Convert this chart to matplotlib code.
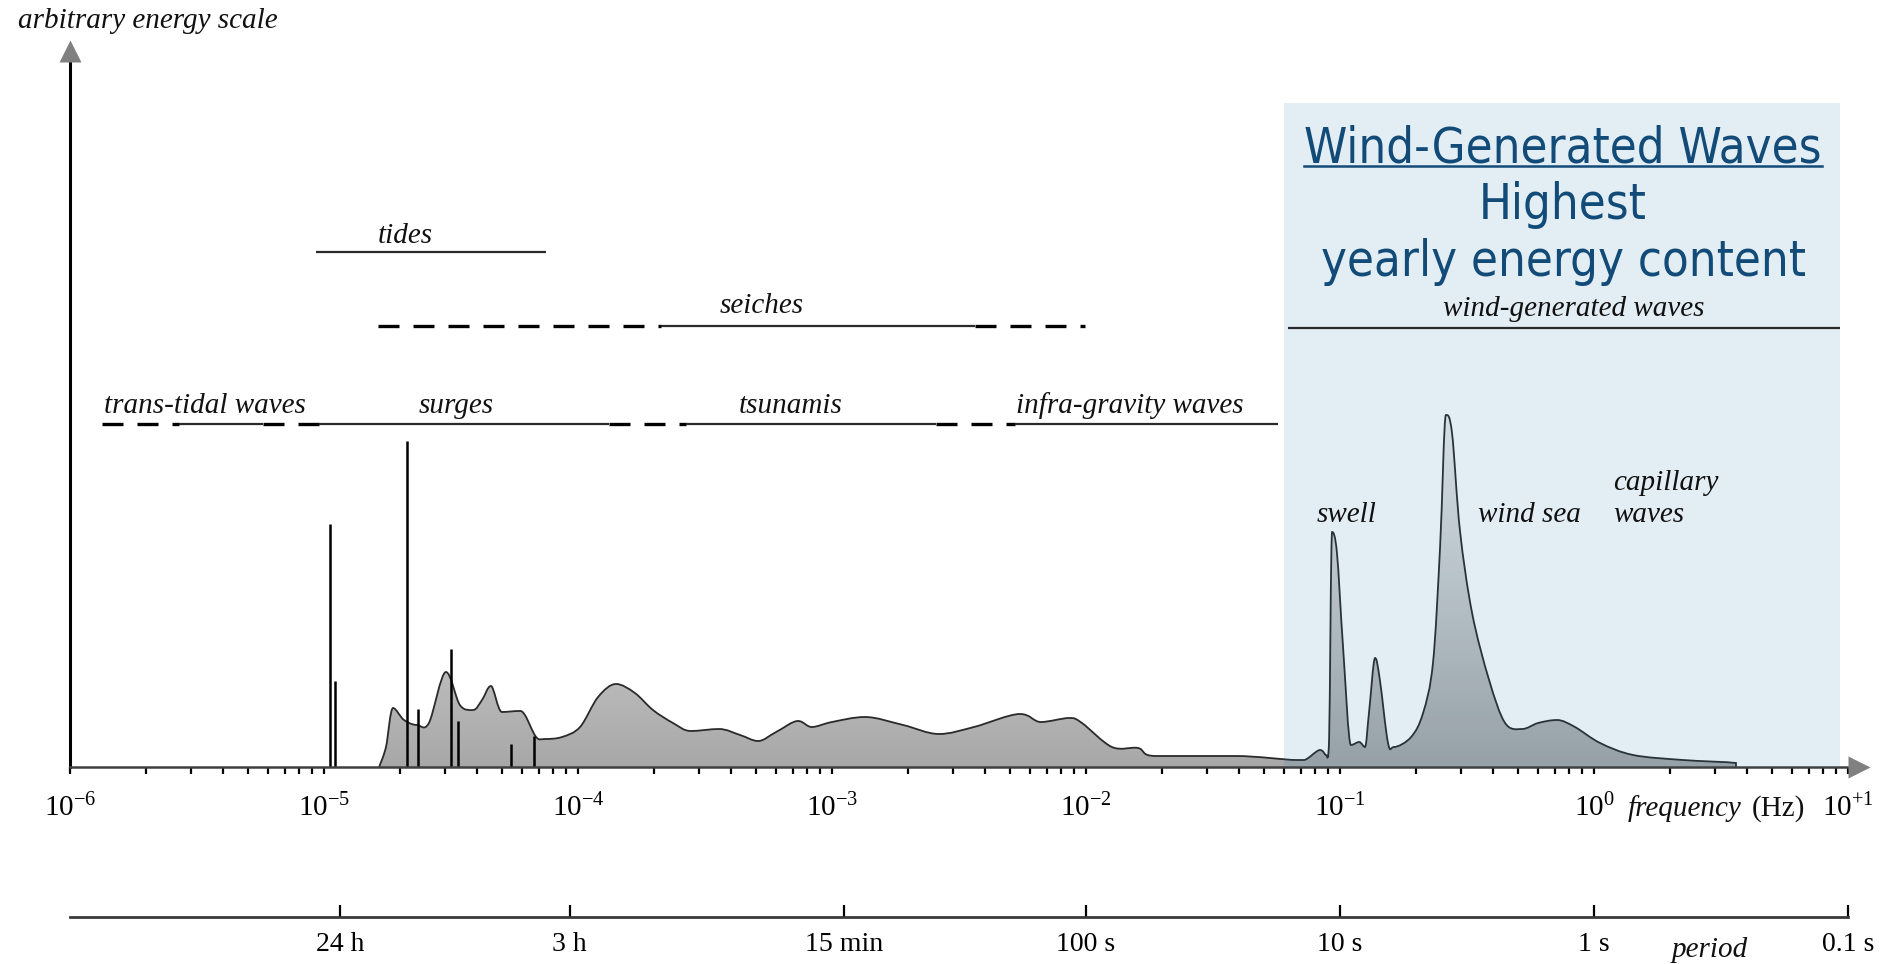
import numpy as np
import matplotlib
matplotlib.use('Agg')
import matplotlib.pyplot as plt
from matplotlib.colors import LinearSegmentedColormap
from matplotlib.patches import PathPatch
from matplotlib.path import Path
from matplotlib.ticker import NullLocator, FixedLocator, LogLocator
from matplotlib.lines import Line2D

plt.rcParams['font.family'] = ['Liberation Serif', 'DejaVu Serif']
plt.rcParams['mathtext.fontset'] = 'custom'
plt.rcParams['mathtext.rm'] = 'Liberation Serif'
plt.rcParams['mathtext.it'] = 'Liberation Serif:italic'

# ---------------- data ----------------
spec_log_f = [-4.783, -4.756, -4.728, -4.685, -4.634, -4.587, -4.520, -4.465, -4.413, -4.378,
              -4.343, -4.299, -4.236, -4.209, -4.165, -4.130, -4.063, -3.992, -3.921, -3.850,
              -3.776, -3.705, -3.626, -3.555, -3.445, -3.362, -3.291, -3.220, -3.134, -3.079,
              -3.000, -2.870, -2.720, -2.579, -2.441, -2.260, -2.177, -2.067, -2.016, -1.898,
              -1.795, -1.724, -1.413, -1.173, -1.142, -1.079, -1.055, -1.043, -1.031, -1.012,
              -0.988, -0.957, -0.925, -0.902, -0.886, -0.862, -0.843, -0.811, -0.787, -0.720,
              -0.673, -0.634, -0.606, -0.583, -0.559, -0.528, -0.480, -0.413, -0.350, -0.283,
              -0.220, -0.146, -0.075, 0.024, 0.154, 0.350, 0.559, 0.559]
spec_energy = [0, 20, 59, 47, 42, 44, 95, 62, 57, 67,
               81, 55, 56, 52, 30, 28, 30, 40, 70, 83,
               74, 57, 44, 36, 38, 32, 26, 35, 46, 40,
               45, 50, 42, 33, 40, 53, 45, 49, 44, 20,
               19, 11, 11, 7, 7, 17, 12, 27, 235, 214,
               120, 22, 25, 20, 54, 109, 87, 24, 20, 30,
               54, 104, 220, 352, 334, 237, 154, 87, 44, 38,
               44, 47, 40, 24, 12, 7, 4, 0]

tide_log_f = [-4.976, -4.957, -4.673, -4.630, -4.500, -4.472, -4.264, -4.173]
tide_energy = [243, 86, 326, 58, 118, 46, 23, 31]

# range bars: breakpoints (log10 Hz) and style of each piece
lower_row_log_f = [-5.874, -5.571, -5.240, -5.020, -3.878, -3.575, -2.591, -2.280, -1.244]
lower_row_styles = ['dash', 'solid', 'dash', 'solid', 'dash', 'solid', 'dash', 'solid']
lower_row_level = 343
seiche_log_f = [-4.787, -3.673, -2.437, -2.004]
seiche_styles = ['dash', 'solid', 'dash']
seiche_level = 441
tide_range_log_f = [-5.031, -4.126]
tide_range_level = 515
wind_range_log_f = [-1.205, 0.969]
wind_range_level = 439

phenomena_labels = ['trans-tidal waves', 'surges', 'tsunamis', 'infra-gravity waves',
                    'tides', 'seiches', 'wind-generated waves', 'swell', 'wind sea']
phenomena_log_f = [-5.469, -4.480, -3.161, -1.827, -4.681, -3.276, -0.079, -0.976, -0.256]
phenomena_energy = [354, 354, 354, 354, 524, 454, 451, 245, 245]

freq_exponents = [-6, -5, -4, -3, -2, -1, 0, 1]
freq_tick_labels = [r'$10^{-6}$', r'$10^{-5}$', r'$10^{-4}$', r'$10^{-3}$', r'$10^{-2}$',
                    r'$10^{-1}$', r'$10^{0}$', r'$10^{+1}$']

period_seconds = [86400, 10800, 900, 100, 10, 1, 0.1]
period_labels = ['24 h', '3 h', '15 min', '100 s', '10 s', '1 s', '0.1 s']

box_log_f = [-1.220, 0.969]
box_top = 664
box_title = ['Wind-Generated Waves', 'Highest', 'yearly energy content']
box_title_energy = [605, 548, 491]

# ---------------- figure ----------------
W, H = 1896, 964
fig = plt.figure(figsize=(W / 100, H / 100), dpi=100)
ax = fig.add_axes([70 / W, (H - 767) / H, 1798 / W, 725 / H])
ax.set_xscale('log')
xmax = 10 ** 1.0787


def smooth_path(lx, ly, close=False):
    """Bezier path through the read points (in log-f space), drawn via transData."""
    P = np.column_stack([lx, ly]).astype(float)
    n = len(P)
    M = np.zeros_like(P)
    for i in range(n):
        a = P[i - 1] if i > 0 else P[i]
        b = P[i + 1] if i < n - 1 else P[i]
        M[i] = (b - a) / 2.0
        if 0 < i < n - 1:
            if (P[i, 1] >= P[i - 1, 1] and P[i, 1] >= P[i + 1, 1]) or \
               (P[i, 1] <= P[i - 1, 1] and P[i, 1] <= P[i + 1, 1]):
                M[i, 1] = 0.0
    verts = [P[0]]
    codes = [Path.MOVETO]
    for i in range(n - 1):
        p1, p2 = P[i], P[i + 1]
        if p2[0] - p1[0] < 1e-9:
            verts.append(p2)
            codes.append(Path.LINETO)
            continue
        c1 = p1 + M[i] / 3.0
        c2 = p2 - M[i + 1] / 3.0
        c1[0] = np.clip(c1[0], p1[0], p2[0])
        c2[0] = np.clip(c2[0], p1[0], p2[0])
        c1[1] = max(c1[1], 0.0)
        c2[1] = max(c2[1], 0.0)
        verts += [c1, c2, p2.copy()]
        codes += [Path.CURVE4] * 3
    if close:
        verts += [P[0], P[0]]
        codes += [Path.LINETO, Path.CLOSEPOLY]
    V = np.array(verts)
    V[:, 0] = 10 ** V[:, 0]
    return Path(V, codes)


# gradient fill of the spectrum
cmap = LinearSegmentedColormap.from_list('g', ['#a8a8a8', '#f0f0f0'])
grad = np.linspace(0, 1, 256).reshape(-1, 1)
im = ax.imshow(grad, extent=(1e-6, 10, 0, 352), origin='lower', aspect='auto',
               cmap=cmap, zorder=1, interpolation='bilinear')
fill_patch = PathPatch(smooth_path(spec_log_f, spec_energy, close=True),
                       transform=ax.transData, facecolor='none', edgecolor='none')
ax.add_patch(fill_patch)
im.set_clip_path(fill_patch)
ax.add_patch(PathPatch(smooth_path(spec_log_f, spec_energy), transform=ax.transData,
                       facecolor='none', edgecolor='#2a2a2a', lw=1.3, zorder=2))
ax.set_xlim(1e-6, xmax)
ax.set_ylim(0, 725)

# tidal lines
ax.vlines(10 ** np.array(tide_log_f), 0, tide_energy, color='black', lw=1.8, zorder=2)

# wind-generated box (translucent blue)
ax.axvspan(10 ** box_log_f[0], 10 ** box_log_f[1], ymin=0, ymax=box_top / 725,
           color='#2271a8', alpha=0.125, lw=0, zorder=3)


def draw_row(breaks, styles, level):
    for i, st in enumerate(styles):
        xs = [10 ** breaks[i], 10 ** breaks[i + 1]]
        if st == 'solid':
            ax.plot(xs, [level, level], color='#2a2a2a', lw=1.6, zorder=4,
                    solid_capstyle='butt')
        else:
            ax.plot(xs, [level, level], color='black', lw=2.4, zorder=4,
                    linestyle=(0, (6.3, 4.2)), dash_capstyle='butt')


draw_row(lower_row_log_f, lower_row_styles, lower_row_level)
draw_row(seiche_log_f, seiche_styles, seiche_level)
draw_row(tide_range_log_f, ['solid'], tide_range_level)
draw_row(wind_range_log_f, ['solid'], wind_range_level)

for lab, lf, en in zip(phenomena_labels, phenomena_log_f, phenomena_energy):
    ax.text(10 ** lf, en, lab, ha='center', va='baseline', style='italic',
            fontsize=21, color='#111111', zorder=5)
ax.text(10 ** 0.075, 277, 'capillary', ha='left', va='baseline', style='italic',
        fontsize=21, color='#111111', zorder=5)
ax.text(10 ** 0.075, 245, 'waves', ha='left', va='baseline', style='italic',
        fontsize=21, color='#111111', zorder=5)

# box title
title_texts = []
for s, en in zip(box_title, box_title_energy):
    t = ax.text(10 ** -0.122, en, s, ha='center', va='baseline', fontsize=34,
                family='DejaVu Sans', fontstretch='condensed', color='#124b78', zorder=5)
    title_texts.append(t)

# axes styling
for sp in ['top', 'right']:
    ax.spines[sp].set_visible(False)
ax.spines['left'].set_bounds(0, 706)
ax.spines['left'].set_linewidth(2.2)
ax.spines['left'].set_color('black')
ax.spines['bottom'].set_bounds(1e-6, 10 ** 1.037)
ax.spines['bottom'].set_linewidth(1.8)
ax.spines['bottom'].set_color('#404040')
ax.set_yticks([])
ax.xaxis.set_major_locator(FixedLocator([10.0 ** e for e in freq_exponents]))
ax.set_xticklabels(freq_tick_labels)
ax.xaxis.set_minor_locator(LogLocator(base=10, subs=np.arange(2, 10)))
ax.xaxis.set_minor_formatter(plt.NullFormatter())
ax.tick_params(axis='x', which='both', direction='out', length=5, width=1.6,
               color='black', labelsize=21, pad=14)

# arrow heads
ax.plot([1e-6], [716.5], marker='^', ms=15.5, color='#808080', mec='none',
        clip_on=False, zorder=6)
ax.plot([10 ** 1.0413], [0], marker='>', ms=15.5, color='#808080', mec='none',
        clip_on=False, zorder=6)

# period axis
ax2 = fig.add_axes([70 / W, (H - 917) / H, 1798 / W, 0.0005])
ax2.set_xscale('log')
ax2.set_xlim(1e-6, xmax)
ax2.patch.set_visible(False)
for sp in ['top', 'right', 'left']:
    ax2.spines[sp].set_visible(False)
ax2.spines['bottom'].set_bounds(1e-6, 10)
ax2.spines['bottom'].set_linewidth(2.0)
ax2.spines['bottom'].set_color('#3a3a3a')
ax2.set_yticks([])
ax2.xaxis.set_major_locator(FixedLocator([1.0 / p for p in period_seconds]))
ax2.set_xticklabels(period_labels)
ax2.xaxis.set_minor_locator(NullLocator())
ax2.tick_params(axis='x', which='major', direction='in', length=9, width=1.6,
                color='black', labelsize=20, pad=11)

# free texts
fig.text(18 / W, 1 - 28 / H, 'arbitrary energy scale', style='italic', fontsize=21,
         ha='left', va='baseline', color='#111111')
fig.text(1628 / W, 1 - 816 / H, 'frequency', style='italic', fontsize=21,
         ha='left', va='baseline', color='#111111')
fig.text(1752 / W, 1 - 816 / H, '(Hz)', fontsize=21, ha='left', va='baseline',
         color='#111111')
fig.text(1672 / W, 1 - 957 / H, 'period', style='italic', fontsize=21,
         ha='left', va='baseline', color='#111111')

# fit title width and underline
fig.canvas.draw()
r = fig.canvas.get_renderer()
bb = title_texts[0].get_window_extent(r)
scale = 518.0 / bb.width
for t in title_texts:
    t.set_fontsize(t.get_fontsize() * scale)
fig.canvas.draw()
bb = title_texts[0].get_window_extent(r)
fig.add_artist(Line2D([bb.x0 / W, bb.x1 / W], [1 - 166 / H, 1 - 166 / H],
                      transform=fig.transFigure, color='#124b78', lw=1.8))

fig.savefig('out.png', dpi=100)
